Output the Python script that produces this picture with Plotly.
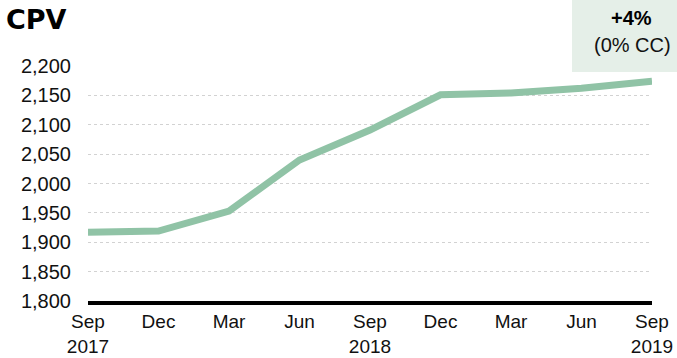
import plotly.graph_objects as go

# Quarterly CPV, Sep 2017 - Sep 2019
quarters = ["Sep<br>2017", "Dec", "Mar", "Jun", "Sep<br>2018", "Dec", "Mar", "Jun", "Sep<br>2019"]
cpv = [1917, 1919, 1953, 2040, 2091, 2151, 2154, 2162, 2174]
y_ticks = [1800, 1850, 1900, 1950, 2000, 2050, 2100, 2150, 2200]

W, H = 677, 358
L, R, T, B = 88, 25, 66, 57
pw, ph = W - L - R, H - T - B

def px(x):
    return (x - L) / pw

def py(y):
    return (H - B - y) / ph

fig = go.Figure()
fig.add_trace(go.Scatter(
    x=list(range(len(cpv))), y=cpv, mode="lines",
    line=dict(color="#90c3a6", width=7),
    hoverinfo="skip", cliponaxis=False,
))

font = dict(family="Liberation Sans, Arial, sans-serif", size=20, color="#111")

fig.update_layout(
    width=W, height=H,
    margin=dict(l=L, r=R, t=T, b=B),
    paper_bgcolor="white", plot_bgcolor="white",
    showlegend=False,
    font=font,
    xaxis=dict(
        range=[0, 8], tickmode="array", tickvals=list(range(len(quarters))),
        ticktext=quarters, showgrid=False, zeroline=False,
        showline=True, linecolor="black", linewidth=4,
        ticks="", ticklabelstandoff=0, fixedrange=True, automargin=False,
        tickfont=dict(size=19),
    ),
    yaxis=dict(
        range=[1800, 2200], tickvals=y_ticks,
        ticktext=[f"{v:,}" for v in y_ticks],
        showgrid=True, gridcolor="#d2d2d2", gridwidth=1, griddash="dot",
        zeroline=False, showline=False, ticks="", ticklabelstandoff=16,
        fixedrange=True, automargin=False,
    ),
    shapes=[dict(
        type="rect", xref="paper", yref="paper",
        x0=px(572), x1=px(W + 2), y0=py(72), y1=py(-2),
        fillcolor="#e5efe8", line=dict(width=0), layer="below",
    )],
    annotations=[
        dict(text="<b>CPV</b>", xref="paper", yref="paper",
             x=px(4), y=py(20), xanchor="left", yanchor="middle",
             showarrow=False,
             font=dict(family="DejaVu Sans, Liberation Sans, Arial", size=27, color="black")),
        dict(text="<b>+4%</b>", xref="paper", yref="paper",
             x=px(631), y=py(18), xanchor="center", yanchor="middle",
             showarrow=False, font=dict(family="Liberation Sans, Arial", size=20, color="black")),
        dict(text="(0% CC)", xref="paper", yref="paper",
             x=px(632), y=py(45), xanchor="center", yanchor="middle",
             showarrow=False, font=dict(family="Liberation Sans, Arial", size=20, color="#111")),
    ],
)

fig.write_html("out.html")
